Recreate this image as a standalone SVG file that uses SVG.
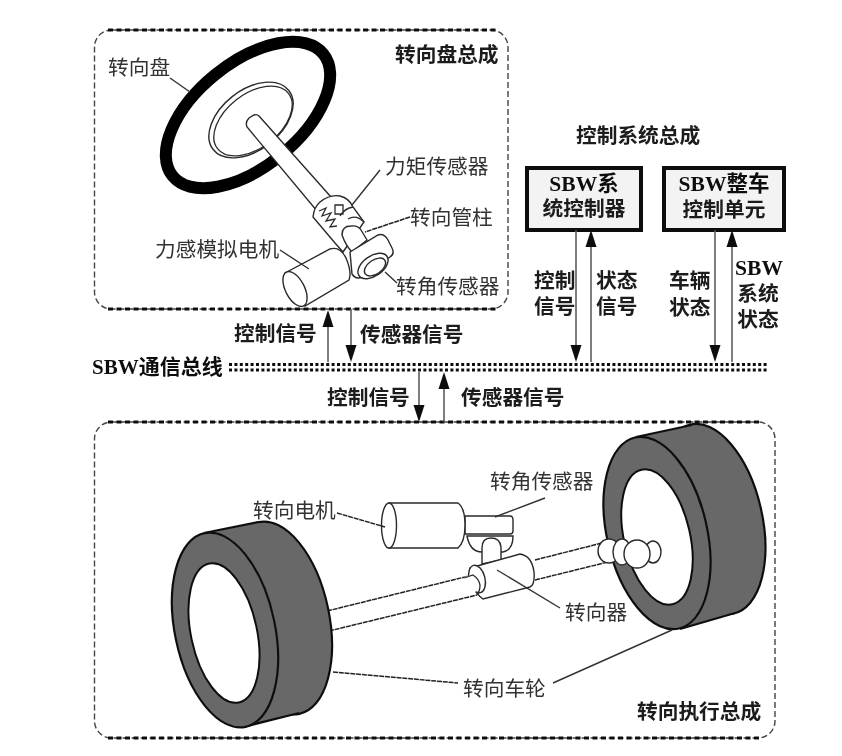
<svg xmlns="http://www.w3.org/2000/svg" width="842" height="756" viewBox="0 0 842 756">
<style>
text{font-family:"Liberation Sans","Noto Sans CJK SC",sans-serif;fill:#1c1c1c;font-size:20.700px}
.r{font-weight:400;fill:#333}
.b{font-family:"Liberation Serif","Noto Sans CJK SC",serif;font-weight:700;fill:#111}
.c{font-weight:700;fill:#1a1a1a}
.bs{font-family:"Liberation Serif","Noto Sans CJK SC",serif;font-weight:700}
.m{text-anchor:middle}
.dash{fill:none;stroke:#444;stroke-width:1.4;stroke-dasharray:6 3}
.thick{fill:none;stroke:#111;stroke-width:3;stroke-dasharray:5 3.5}
.l{fill:none;stroke:#333;stroke-width:1.4}
.ld{fill:none;stroke:#222;stroke-width:1.5;stroke-dasharray:5 .8}
.o{fill:#fff;stroke:#2a2a2a;stroke-width:1.4}
.n{fill:none;stroke:#2a2a2a;stroke-width:1.3}
.t{fill:#686868;stroke:#111;stroke-width:2.2}
.box{fill:#f3f3f3;stroke:#111;stroke-width:4}
.a{fill:none;stroke:#555;stroke-width:1.5}
.bus{fill:none;stroke:#111;stroke-width:3;stroke-dasharray:3 2.4}
</style>
<defs>
<filter id="soft" x="-5%" y="-5%" width="110%" height="110%"><feGaussianBlur stdDeviation="0.45"/></filter>
<path id="tip" d="M-5.500 0L5.500 0L0-17Z" fill="#111"/>
</defs>
<rect width="842" height="756" fill="#fff"/>
<g filter="url(#soft)">
<g id="steering-assembly">
<rect class="dash" x="94.500" y="30" width="413.500" height="279" rx="17"/>
<path class="thick" d="M108 30H496M108 309H496"/>
<ellipse cx="248" cy="115" rx="97" ry="52" transform="rotate(-39 248 115)" fill="#fff" stroke="#000" stroke-width="12"/>
<ellipse cx="251" cy="120" rx="48" ry="30" transform="rotate(-38 251 120)" class="o"/>
<ellipse cx="253" cy="121" rx="45" ry="27" transform="rotate(-38 253 121)" class="n"/>
<path class="o" d="M247 127Q245 122 249 118L254 115Q257 114 259 116L331 197L317 211Z"/>
<path class="o" d="M313 217Q314 207 320 202Q330 194 340 196Q349 198 353 207L364 222L343 252L335 243Z"/>
<path class="n" d="M319 211L326 208L322 216L331 213L326 221L335 219L330 227L337 226"/>
<path class="n" d="M335 205h8v9h-8zM353 207Q345 208 340 216M364 222Q356 214 348 219"/>
<path class="o" d="M342 235Q342 226 351 226Q358 225 361 230L367 240L352 252Q346 246 342 235Z"/>
<path class="o" d="M350 252L378 235Q384 233 388 240L392 248Q395 254 390 257L362 277Q356 280 352 274Z"/>
<ellipse cx="373" cy="266" rx="17" ry="10" transform="rotate(-35 373 266)" class="o"/>
<ellipse cx="375" cy="267" rx="12" ry="7" transform="rotate(-35 375 267)" class="o"/>
<path class="o" d="M285 273L330 249Q340 246 346 258Q352 272 349 280L305 306Z"/>
<ellipse cx="295" cy="289" rx="9.500" ry="19" transform="rotate(-27 295 289)" class="o"/>
<path class="l" d="M170 78L190 92M380 170L352 205M280 250L309 269M385 272L397 283"/>
<path class="ld" d="M410 217L365 232"/>
<text class="c" x="395" y="62">转向盘总成</text>
<text class="r" x="108" y="75">转向盘</text>
<text class="r" x="385" y="174">力矩传感器</text>
<text class="r" x="410" y="225">转向管柱</text>
<text class="r" x="155" y="257">力感模拟电机</text>
<text class="r" x="396" y="294">转角传感器</text>
</g>
<g id="control-title"><text class="c" x="576" y="143">控制系统总成</text></g>
<g id="sbw-controller">
<rect class="box" x="527" y="168" width="114" height="62"/>
<text class="b m" x="584" y="191" style="font-size:21.500px">SBW系</text>
<text class="c m" x="584" y="216">统控制器</text>
</g>
<g id="vehicle-unit">
<rect class="box" x="664" y="168" width="120" height="62"/>
<text class="b m" x="724" y="191" style="font-size:21.500px">SBW整车</text>
<text class="c m" x="724" y="217">控制单元</text>
</g>
<g id="bus">
<path class="bus" d="M229 364.500H767M229 370H767"/>
<text class="b" x="92" y="374" style="font-size:21px">SBW通信总线</text>
</g>
<g id="actuator-assembly">
<rect class="dash" x="94.500" y="422" width="680.500" height="316" rx="17"/>
<path class="thick" d="M108 422H762M108 738H762"/>
<g id="axle">
<path class="o" style="stroke:none" d="M327 611L602 543L608 562L329 631Z"/>
<path class="ld" d="M327 611L473 575M535 560L602 543M329 631L477 595M535 580L608 562"/>
</g>
<g id="motor">
<path class="o" d="M467 536Q470 552 482 552H503Q513 550 513 536Z"/>
<path class="o" d="M465 516H510Q513 516 513 520V531Q513 534 510 534H465Z"/>
<path class="o" d="M389 503H458Q465 508 465 525Q465 542 458 548H389Z"/>
<ellipse cx="389" cy="525.500" rx="7.500" ry="22.500" class="o"/>
<path class="o" d="M482 564V548Q482 538 491 538Q500 538 501 547V560Z"/>
</g>
<g id="gear">
<path class="o" d="M470 568L520 554Q532 556 534 572Q535 585 530 587L483 599Q470 590 470 568Z"/>
<ellipse cx="477" cy="579" rx="8" ry="14" transform="rotate(-14 477 579)" class="o"/>
<path class="o" style="stroke:none" d="M464 577L476 574L479 590L464 597Z"/>
<path class="n" d="M464 578L473 575Q479 579 480 585Q480 591 477 595"/>
</g>
<g id="wheel-right">
<ellipse cx="712" cy="519" rx="50" ry="97" transform="rotate(-13 712 519)" class="t"/>
<path d="M636 437L692 425L735 613L680 629Z" class="t" style="stroke:none"/>
<path d="M636 437L692 425M680 629L735 613" class="t"/>
<ellipse cx="657" cy="533" rx="50" ry="98" transform="rotate(-13 657 533)" class="t"/>
<ellipse cx="657" cy="537" rx="33" ry="69" transform="rotate(-13 657 537)" fill="#fff" stroke="#111" stroke-width="2"/>
</g>
<g id="joint">
<ellipse cx="653" cy="552" rx="8" ry="11" class="o"/>
<ellipse cx="609" cy="551" rx="11" ry="12" class="o"/>
<ellipse cx="622" cy="552" rx="9" ry="13" class="o"/>
<ellipse cx="637" cy="554" rx="13" ry="14" class="o"/>
</g>
<g id="wheel-left">
<ellipse cx="279" cy="618" rx="50" ry="98" transform="rotate(-12 279 618)" class="t"/>
<path d="M204 533L259 522L299 713L243 727Z" class="t" style="stroke:none"/>
<path d="M204 533L259 522M243 727L299 713" class="t"/>
<ellipse cx="225" cy="630" rx="50" ry="99" transform="rotate(-12 225 630)" class="t"/>
<ellipse cx="224" cy="633" rx="33" ry="71" transform="rotate(-12 224 633)" fill="#fff" stroke="#111" stroke-width="2"/>
</g>
<path class="l" d="M545 498L495 517M497 570L560 608M553 683L672 630"/>
<path class="ld" d="M337 513L385 527M333 672L458 683"/>
<text class="r" x="253" y="518">转向电机</text>
<text class="r" x="490" y="489">转角传感器</text>
<text class="r" x="565" y="620">转向器</text>
<text class="r" x="463" y="696">转向车轮</text>
<text class="c" x="637" y="719">转向执行总成</text>
</g>
<g id="connectors">
<path class="a" d="M328 362V326M351 309V346M576 230V346M591 362V246M715 230V346M732 362V246M419 372V406M444 422V388"/>
<use href="#tip" x="328" y="327"/>
<use href="#tip" transform="translate(351 345) scale(1 -1)"/>
<use href="#tip" transform="translate(576 345) scale(1 -1)"/>
<use href="#tip" x="591" y="247"/>
<use href="#tip" transform="translate(715 345) scale(1 -1)"/>
<use href="#tip" x="732" y="247"/>
<use href="#tip" transform="translate(419 405) scale(1 -1)"/>
<use href="#tip" x="444" y="389"/>
<text class="c" x="234" y="341">控制信号</text>
<text class="c" x="360" y="342">传感器信号</text>
<text class="c" x="327" y="405">控制信号</text>
<text class="c" x="461" y="405">传感器信号</text>
<text class="c" x="534" y="288">控制</text>
<text class="c" x="534" y="314">信号</text>
<text class="c" x="596" y="288">状态</text>
<text class="c" x="596" y="314">信号</text>
<text class="c" x="669" y="288">车辆</text>
<text class="c" x="669" y="315">状态</text>
<text class="b m" x="759" y="275" style="font-size:21.500px">SBW</text>
<text class="c m" x="758" y="301">系统</text>
<text class="c m" x="758" y="327">状态</text>
</g>
</g>
</svg>
